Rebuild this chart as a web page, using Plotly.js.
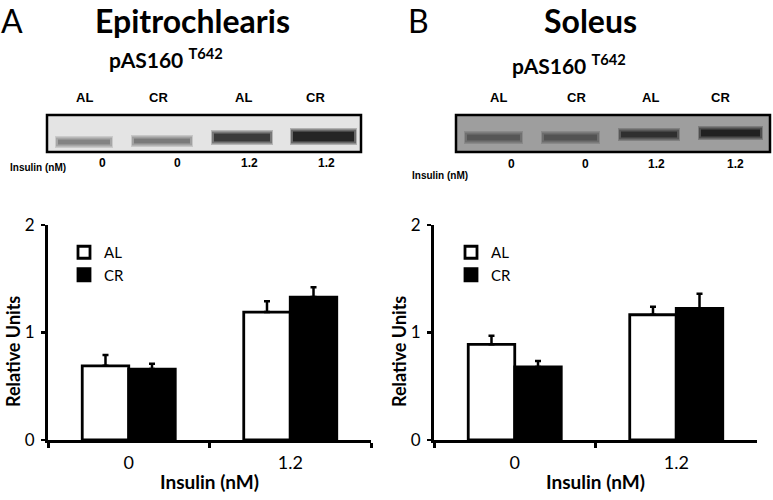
<!DOCTYPE html>
<html>
<head>
<meta charset="utf-8">
<script src="https://cdn.plot.ly/plotly-3.0.1.min.js"></script>
<style>html,body{margin:0;padding:0;background:#fff;}#chart{width:773px;height:500px;}</style>
</head>
<body>
<div id="chart"></div>
<script>
// ---- data ----
const categories = ["0", "1.2"];
const groups = ["AL", "CR"];
// Epitrochlearis (panel A)
const epiAL = [0.69, 1.19];
const epiALerr = [0.10, 0.10];
const epiCR = [0.66, 1.33];
const epiCRerr = [0.05, 0.09];
// Soleus (panel B)
const solAL = [0.89, 1.165];
const solALerr = [0.08, 0.075];
const solCR = [0.68, 1.225];
const solCRerr = [0.055, 0.135];
const laneLabels = ["AL", "CR", "AL", "CR"];
const laneInsulin = ["0", "0", "1.2", "1.2"];
const yTicks = [0, 1, 2];

const W = 773, H = 500;
const px = x => x / W;
const py = y => 1 - y / H;
const CAL = "Lato, 'Open Sans', sans-serif";
const ARB = "'Liberation Sans', Arial, sans-serif";

function barTrace(name, y, err, color, xa, ya, legend, show) {
  return {
    type: "bar", name: name, x: categories, y: y,
    xaxis: xa, yaxis: ya, legend: legend, showlegend: show,
    marker: {color: color, line: {color: "#000", width: 2.8}},
    error_y: {type: "data", symmetric: false, array: err, arrayminus: err.map(() => 0),
              color: "#000", thickness: 2.5, width: 3},
    hoverinfo: "skip"
  };
}

const data = [
  barTrace(groups[0], epiAL, epiALerr, "#fff", "x", "y", "legend", true),
  barTrace(groups[1], epiCR, epiCRerr, "#000", "x", "y", "legend", true),
  barTrace(groups[0], solAL, solALerr, "#fff", "x2", "y2", "legend2", true),
  barTrace(groups[1], solCR, solCRerr, "#000", "x2", "y2", "legend2", true)
];

function xAxis(domain, anchor) {
  return {
    domain: domain, anchor: anchor, type: "category", range: [-0.5, 1.5],
    showline: true, linecolor: "#000", linewidth: 3, mirror: false,
    ticks: "outside", tickson: "boundaries", ticklen: 5, tickwidth: 3, tickcolor: "#000",
    showgrid: false, zeroline: false, ticklabelstandoff: 4,
    tickfont: {family: CAL, size: 18, color: "#000"},
    title: {text: "<b>Insulin (nM)</b>", font: {family: CAL, size: 19, color: "#000"}, standoff: 5}
  };
}
function yAxis(domain, anchor) {
  return {
    domain: domain, anchor: anchor, range: [0, 2], tickvals: yTicks,
    showline: true, linecolor: "#000", linewidth: 3,
    ticks: "outside", ticklen: 4, tickwidth: 2.5, tickcolor: "#000",
    showgrid: false, zeroline: false, ticklabelstandoff: 3,
    tickfont: {family: CAL, size: 17, color: "#000"}
  };
}

const yDom = [py(440), py(225)];

const shapes = [];
const annotations = [];

function blot(x0, x1, y0, y1, bg, bands) {
  shapes.push({type: "rect", xref: "paper", yref: "paper", x0: px(x0), x1: px(x1), y0: py(y1), y1: py(y0),
    fillcolor: bg, line: {color: "#000", width: 2.5}, layer: "above"});
  bands.forEach(b => {
    shapes.push({type: "rect", xref: "paper", yref: "paper", x0: px(b[0] - 1), x1: px(b[1] + 1), y0: py(b[3] + 2), y1: py(b[2] - 2),
      fillcolor: b[4], opacity: 0.25, line: {width: 0}, layer: "above"});
    shapes.push({type: "rect", xref: "paper", yref: "paper", x0: px(b[0]), x1: px(b[1]), y0: py(b[3] + 0.5), y1: py(b[2] - 0.5),
      fillcolor: b[4], opacity: 0.45, line: {width: 0}, layer: "above"});
    shapes.push({type: "rect", xref: "paper", yref: "paper", x0: px(b[0] + 2), x1: px(b[1] - 2), y0: py(b[3] - 1.5), y1: py(b[2] + 1.5),
      fillcolor: b[4], opacity: 0.8, line: {width: 0}, layer: "above"});
  });
}

// Panel A blot
blot(47, 361, 115, 152, "#e4e4e4", [
  [56, 112, 138, 146, "#7a7a7a"],
  [132, 192, 137, 145, "#707070"],
  [212, 272, 132, 143, "#2a2a2a"],
  [291, 356, 130, 143, "#141414"]
]);
// Panel B blot
blot(456, 770, 115, 152, "#9e9e9e", [
  [465, 522, 133, 142, "#505050"],
  [542, 599, 133, 142, "#4c4c4c"],
  [619, 679, 130, 139, "#262626"],
  [699, 762, 128, 138, "#161616"]
]);

function txt(x, y, text, size, family, opts) {
  annotations.push(Object.assign({xref: "paper", yref: "paper", x: px(x), y: py(y), text: text,
    showarrow: false, xanchor: "center", yanchor: "middle",
    font: {family: family, size: size, color: "#000"}}, opts || {}));
}

// Panel letters & titles
txt(12, 20, "A", 32, CAL);
txt(192, 20, "<b>Epitrochlearis</b>", 32, CAL);
txt(418, 20, "B", 32, CAL);
txt(590, 20, "<b>Soleus</b>", 32, CAL);
txt(166, 58, "<b>pAS160 <sup>T642</sup></b>", 21, CAL);
txt(569, 64, "<b>pAS160 <sup>T642</sup></b>", 21, CAL);

// y-axis titles
txt(13, 352, "<b>Relative Units</b>", 18, CAL, {textangle: -90});
txt(399, 352, "<b>Relative Units</b>", 18, CAL, {textangle: -90});

const laneXA = [84, 158, 243, 315];
const laneXB = [498, 576, 650, 720];
const insXA = [102, 177, 250, 326];
const insXB = [511, 585, 656, 735];
laneLabels.forEach((l, i) => {
  txt(laneXA[i], 98, "<b>" + l + "</b>", 13, ARB);
  txt(laneXB[i], 98, "<b>" + l + "</b>", 13, ARB);
});
laneInsulin.forEach((l, i) => {
  txt(insXA[i], 163, "<b>" + l + "</b>", 12, ARB);
  txt(insXB[i], 164, "<b>" + l + "</b>", 12, ARB);
});
txt(38, 167, "<b>Insulin (nM)</b>", 10, ARB);
txt(440, 175, "<b>Insulin (nM)</b>", 10, ARB);

const legendStyle = {xanchor: "left", yanchor: "top", bgcolor: "rgba(0,0,0,0)",
  font: {family: CAL, size: 15, color: "#000"}, tracegroupgap: 0, itemwidth: 30};

const layout = {
  width: W, height: H,
  margin: {l: 0, r: 0, t: 0, b: 0},
  paper_bgcolor: "#fff", plot_bgcolor: "#fff",
  barmode: "group", bargap: 0.424, bargroupgap: 0,
  xaxis: xAxis([px(48), px(371)], "y"),
  yaxis: yAxis(yDom, "x"),
  xaxis2: xAxis([px(434), px(757)], "y2"),
  yaxis2: yAxis(yDom, "x2"),
  legend: Object.assign({x: px(64), y: py(236)}, legendStyle),
  legend2: Object.assign({x: px(451), y: py(236)}, legendStyle),
  shapes: shapes,
  annotations: annotations,
  showlegend: true
};

Plotly.newPlot("chart", data, layout, {staticPlot: true, displayModeBar: false});
</script>
</body>
</html>
